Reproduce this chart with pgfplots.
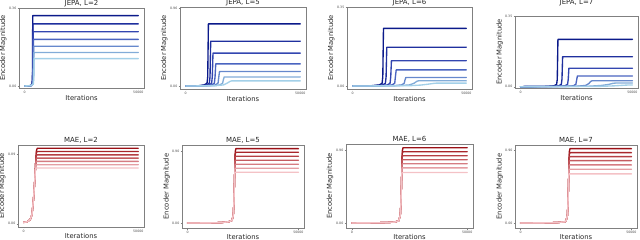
\documentclass[border=0pt]{standalone}
\usepackage{pgfplots}
\pgfplotsset{compat=1.18}
\usepackage{fontspec}
\setmainfont{DejaVu Sans}
\definecolor{b1}{HTML}{0B1A8A}
\definecolor{b2}{HTML}{1F2F9E}
\definecolor{b3}{HTML}{3346B0}
\definecolor{b4}{HTML}{4A64C0}
\definecolor{b5}{HTML}{6688CC}
\definecolor{b6}{HTML}{82ACD8}
\definecolor{b7}{HTML}{A3D0E8}
\definecolor{r1}{HTML}{9B1016}
\definecolor{r2}{HTML}{A8262B}
\definecolor{r3}{HTML}{B53F44}
\definecolor{r4}{HTML}{C45C61}
\definecolor{r5}{HTML}{D57C82}
\definecolor{r6}{HTML}{E49EA3}
\definecolor{r7}{HTML}{F4C2C6}
\pgfplotsset{panel/.style={
  scale only axis, xmin=-2500, xmax=52500, ymin=0, ymax=1,
  xtick={0,50000}, xticklabels={0,50000}, scaled x ticks=false,
  xtick pos=lower, ytick pos=left, tick align=outside,
  axis line style={black!50, line width=0.6bp},
  tick style={black!50, line width=0.4bp}, major tick length=1.5bp,
  ticklabel style={font=\fontsize{3.2}{3.5}\selectfont, text=black!70, inner sep=1bp},
  xlabel=Iterations, ylabel=Encoder Magnitude,
  label style={font=\fontsize{6.8}{7}\selectfont, text=black!85, inner sep=0pt},
  xlabel style={at={(axis description cs:0.5,0)}, anchor=north, yshift=-7.5bp},
  ylabel style={at={(axis description cs:-0.125,0.5)}, anchor=center, rotate=0},
  every axis title/.style={font=\fontsize{7}{8}\selectfont, text=black!85, at={(0.5,1)}, anchor=south, inner sep=0pt, yshift=1.3bp},
  every axis plot/.append style={line width=1.35bp, line join=round, line cap=round, mark=none}
}, bottomrow/.style={xlabel style={yshift=1.7bp}}}
\begin{document}
\begin{tikzpicture}
% ---------------- JEPA L=2
\begin{axis}[panel, at={(19bp,152bp)}, anchor=south west, width=125bp, height=80bp,
  title={JEPA, L=2}, ytick={0.025,1}, yticklabels={0.00,0.36}]
\addplot[b1] coordinates {(0,0.025)(2800,0.03)(3200,0.05)(3400,0.12)(3550,0.905)(50000,0.905)};
\addplot[b2] coordinates {(0,0.025)(2800,0.03)(3300,0.05)(3500,0.12)(3650,0.802)(50000,0.802)};
\addplot[b3] coordinates {(0,0.025)(2800,0.03)(3400,0.05)(3600,0.12)(3750,0.704)(50000,0.704)};
\addplot[b4] coordinates {(0,0.025)(2800,0.03)(3500,0.05)(3700,0.12)(3850,0.608)(50000,0.608)};
\addplot[b5] coordinates {(0,0.025)(2800,0.03)(3600,0.05)(3800,0.12)(3950,0.522)(50000,0.522)};
\addplot[b6] coordinates {(0,0.025)(2800,0.03)(3700,0.05)(3900,0.12)(4050,0.444)(50000,0.444)};
\addplot[b7] coordinates {(0,0.025)(2800,0.03)(3800,0.05)(4000,0.12)(4150,0.367)(50000,0.367)};
\end{axis}
% ---------------- JEPA L=5
\begin{axis}[panel, at={(180bp,151bp)}, anchor=south west, width=126bp, height=82bp,
  title={JEPA, L=5}, ytick={0.036,0.988}, yticklabels={0.00,0.96}]
\addplot[b1] coordinates {(0,0.036)(5600,0.04)(8100,0.05)(9300,0.07)(9600,0.15)(9900,0.794)(50000,0.794)};
\addplot[b2] coordinates {(0,0.036)(6600,0.04)(9100,0.05)(10300,0.07)(10600,0.15)(10900,0.583)(50000,0.583)};
\addplot[b3] coordinates {(0,0.036)(7600,0.04)(10100,0.05)(11300,0.07)(11600,0.15)(11900,0.437)(50000,0.437)};
\addplot[b4] coordinates {(0,0.036)(8800,0.04)(11300,0.05)(12500,0.07)(12800,0.15)(13100,0.306)(50000,0.306)};
\addplot[b5] coordinates {(0,0.036)(10400,0.04)(12900,0.05)(14100,0.07)(14400,0.14)(14750,0.214)(50000,0.214)};
\addplot[b6] coordinates {(0,0.036)(12400,0.04)(14900,0.05)(16100,0.07)(16400,0.11)(16800,0.147)(50000,0.147)};
\addplot[b7] coordinates {(0,0.036)(13000,0.04)(16500,0.05)(18000,0.07)(19300,0.092)(20000,0.099)(50000,0.099)};
\end{axis}
% ---------------- JEPA L=6
\begin{axis}[panel, at={(347bp,151bp)}, anchor=south west, width=125bp, height=82bp,
  title={JEPA, L=6}, ytick={0.036,1}, yticklabels={0.00,0.35}]
\addplot[b1] coordinates {(0,0.036)(8250,0.04)(11750,0.05)(12950,0.07)(13250,0.15)(13550,0.739)(50000,0.739)};
\addplot[b2] coordinates {(0,0.036)(9700,0.04)(13200,0.05)(14400,0.07)(14700,0.15)(15000,0.51)(50000,0.51)};
\addplot[b3] coordinates {(0,0.036)(11750,0.04)(15250,0.05)(16450,0.07)(16750,0.15)(17050,0.345)(50000,0.345)};
\addplot[b4] coordinates {(0,0.036)(13800,0.04)(17300,0.05)(18500,0.07)(18800,0.15)(19150,0.233)(50000,0.233)};
\addplot[b5] coordinates {(0,0.036)(18000,0.04)(21500,0.05)(22700,0.07)(23000,0.11)(23400,0.141)(50000,0.141)};
\addplot[b6] coordinates {(0,0.036)(20000,0.04)(25000,0.05)(27000,0.07)(28300,0.095)(29000,0.1)(50000,0.1)};
\addplot[b7] coordinates {(0,0.036)(25000,0.04)(30000,0.048)(33000,0.058)(35500,0.068)(37000,0.072)(50000,0.072)};
\end{axis}
% ---------------- JEPA L=7
\begin{axis}[panel, at={(515bp,152bp)}, anchor=south west, width=123bp, height=72bp,
  title={JEPA, L=7}, title style={yshift=9bp}, ytick={0.018,1}, yticklabels={0.00,0.35}]
\addplot[b1] coordinates {(0,0.018)(11400,0.022)(14900,0.03)(16100,0.05)(16400,0.12)(16700,0.676)(50000,0.676)};
\addplot[b2] coordinates {(0,0.018)(13500,0.022)(17000,0.03)(18200,0.05)(18500,0.12)(18800,0.435)(50000,0.435)};
\addplot[b3] coordinates {(0,0.018)(16300,0.022)(19800,0.03)(21000,0.05)(21300,0.12)(21600,0.274)(50000,0.274)};
\addplot[b4] coordinates {(0,0.018)(20000,0.022)(23500,0.03)(24700,0.05)(25000,0.1)(25400,0.167)(50000,0.167)};
\addplot[b5] coordinates {(0,0.018)(25000,0.024)(29000,0.035)(30500,0.06)(31300,0.09)(32000,0.101)(50000,0.101)};
\addplot[b6] coordinates {(0,0.018)(30000,0.024)(36000,0.035)(39500,0.05)(41300,0.065)(42500,0.069)(50000,0.069)};
\addplot[b7] coordinates {(0,0.018)(35000,0.022)(42000,0.03)(46000,0.038)(48500,0.042)(50000,0.042)};
\end{axis}
% ---------------- MAE L=2
\begin{axis}[panel, bottomrow, at={(18bp,13bp)}, anchor=south west, width=126bp, height=82bp,
  title={MAE, L=2}, ytick={0.04,0.886}, yticklabels={0.00,0.89}]
\addplot[r1] coordinates {(0,0.056)(1500,0.064)(2800,0.09)(3600,0.15)(4300,0.35)(4900,0.6)(5250,0.8)(5550,0.93)(5900,0.96)(50000,0.96)};
\addplot[r2] coordinates {(0,0.056)(1500,0.064)(2800,0.09)(3600,0.15)(4300,0.35)(4900,0.6)(5250,0.8)(5500,0.9)(5800,0.92)(50000,0.92)};
\addplot[r3] coordinates {(0,0.056)(1500,0.064)(2800,0.09)(3600,0.15)(4300,0.35)(4900,0.6)(5250,0.8)(5450,0.86)(5700,0.88)(50000,0.88)};
\addplot[r4] coordinates {(0,0.056)(1500,0.064)(2800,0.09)(3600,0.15)(4300,0.35)(4900,0.6)(5250,0.8)(5400,0.83)(5600,0.84)(50000,0.84)};
\addplot[r5] coordinates {(0,0.056)(1500,0.064)(2800,0.09)(3600,0.15)(4300,0.35)(4900,0.6)(5200,0.76)(5350,0.79)(5550,0.8)(50000,0.8)};
\addplot[r6] coordinates {(0,0.056)(1500,0.064)(2800,0.09)(3600,0.15)(4300,0.35)(4900,0.6)(5150,0.73)(5300,0.755)(5500,0.76)(50000,0.76)};
\addplot[r7] coordinates {(0,0.056)(1500,0.064)(2800,0.09)(3600,0.15)(4300,0.35)(4900,0.6)(5100,0.7)(5250,0.715)(5450,0.72)(50000,0.72)};
\end{axis}
% ---------------- MAE L=5
\begin{axis}[panel, bottomrow, at={(182bp,12bp)}, anchor=south west, width=122bp, height=83bp,
  title={MAE, L=5}, ytick={0.06,0.928}, yticklabels={0.00,0.90}]
\addplot[r1] coordinates {(0,0.06)(10000,0.062)(15000,0.065)(18500,0.075)(20000,0.09)(20600,0.15)(20900,0.3)(21100,0.5)(21250,0.65)(21350,0.8)(21500,0.92)(21800,0.956)(50000,0.956)};
\addplot[r2] coordinates {(0,0.06)(10000,0.062)(15000,0.065)(18500,0.075)(20000,0.09)(20600,0.15)(20900,0.3)(21100,0.5)(21250,0.65)(21350,0.8)(21480,0.89)(21750,0.912)(50000,0.912)};
\addplot[r3] coordinates {(0,0.06)(10000,0.062)(15000,0.065)(18500,0.075)(20000,0.09)(20600,0.15)(20900,0.3)(21100,0.5)(21250,0.65)(21350,0.8)(21450,0.85)(21650,0.864)(50000,0.864)};
\addplot[r4] coordinates {(0,0.06)(10000,0.062)(15000,0.065)(18500,0.075)(20000,0.09)(20600,0.15)(20900,0.3)(21100,0.5)(21250,0.65)(21350,0.8)(21420,0.81)(21600,0.816)(50000,0.816)};
\addplot[r5] coordinates {(0,0.06)(10000,0.062)(15000,0.065)(18500,0.075)(20000,0.09)(20600,0.15)(20900,0.3)(21100,0.5)(21250,0.65)(21330,0.75)(21400,0.762)(21550,0.768)(50000,0.768)};
\addplot[r6] coordinates {(0,0.06)(10000,0.062)(15000,0.065)(18500,0.075)(20000,0.09)(20600,0.15)(20900,0.3)(21100,0.5)(21250,0.65)(21300,0.7)(21370,0.715)(21500,0.72)(50000,0.72)};
\addplot[r7] coordinates {(0,0.06)(10000,0.062)(15000,0.065)(18500,0.075)(20000,0.09)(20600,0.15)(20900,0.3)(21100,0.5)(21250,0.64)(21330,0.668)(21450,0.672)(50000,0.672)};
\end{axis}
% ---------------- MAE L=6
\begin{axis}[panel, bottomrow, at={(346bp,12bp)}, anchor=south west, width=127bp, height=84bp,
  title={MAE, L=6}, ytick={0.06,0.928}, yticklabels={0.00,0.90}]
\addplot[r1] coordinates {(0,0.06)(10000,0.062)(15000,0.065)(18500,0.07)(20300,0.085)(21000,0.15)(21300,0.3)(21500,0.5)(21650,0.65)(21750,0.8)(21900,0.92)(22200,0.956)(50000,0.956)};
\addplot[r2] coordinates {(0,0.06)(10000,0.062)(15000,0.065)(18500,0.07)(20300,0.085)(21000,0.15)(21300,0.3)(21500,0.5)(21650,0.65)(21750,0.8)(21880,0.885)(22150,0.908)(50000,0.908)};
\addplot[r3] coordinates {(0,0.06)(10000,0.062)(15000,0.065)(18500,0.07)(20300,0.085)(21000,0.15)(21300,0.3)(21500,0.5)(21650,0.65)(21750,0.8)(21850,0.845)(22050,0.86)(50000,0.86)};
\addplot[r4] coordinates {(0,0.06)(10000,0.062)(15000,0.065)(18500,0.07)(20300,0.085)(21000,0.15)(21300,0.3)(21500,0.5)(21650,0.65)(21750,0.8)(21820,0.807)(22000,0.812)(50000,0.812)};
\addplot[r5] coordinates {(0,0.06)(10000,0.062)(15000,0.065)(18500,0.07)(20300,0.085)(21000,0.15)(21300,0.3)(21500,0.5)(21650,0.65)(21730,0.745)(21800,0.758)(21950,0.764)(50000,0.764)};
\addplot[r6] coordinates {(0,0.06)(10000,0.062)(15000,0.065)(18500,0.07)(20300,0.085)(21000,0.15)(21300,0.3)(21500,0.5)(21650,0.65)(21700,0.7)(21770,0.711)(21900,0.716)(50000,0.716)};
\addplot[r7] coordinates {(0,0.06)(10000,0.062)(15000,0.065)(18500,0.07)(20300,0.085)(21000,0.15)(21300,0.3)(21500,0.5)(21650,0.63)(21730,0.656)(21850,0.66)(50000,0.66)};
\end{axis}
% ---------------- MAE L=7
\begin{axis}[panel, bottomrow, at={(515bp,12bp)}, anchor=south west, width=122bp, height=83bp,
  title={MAE, L=7}, ytick={0.06,0.932}, yticklabels={0.00,0.90}]
\addplot[r1] coordinates {(0,0.06)(10000,0.062)(16300,0.065)(20100,0.075)(20500,0.085)(21100,0.15)(21400,0.3)(21600,0.5)(21750,0.65)(21850,0.8)(22000,0.92)(22300,0.956)(50000,0.956)};
\addplot[r2] coordinates {(0,0.06)(10000,0.062)(16300,0.065)(20100,0.075)(20500,0.085)(21100,0.15)(21400,0.3)(21600,0.5)(21750,0.65)(21850,0.8)(21980,0.885)(22250,0.908)(50000,0.908)};
\addplot[r3] coordinates {(0,0.06)(10000,0.062)(16300,0.065)(20100,0.075)(20500,0.085)(21100,0.15)(21400,0.3)(21600,0.5)(21750,0.65)(21850,0.8)(21950,0.845)(22150,0.86)(50000,0.86)};
\addplot[r4] coordinates {(0,0.06)(10000,0.062)(16300,0.065)(20100,0.075)(20500,0.085)(21100,0.15)(21400,0.3)(21600,0.5)(21750,0.65)(21850,0.8)(21920,0.807)(22100,0.812)(50000,0.812)};
\addplot[r5] coordinates {(0,0.06)(10000,0.062)(16300,0.065)(20100,0.075)(20500,0.085)(21100,0.15)(21400,0.3)(21600,0.5)(21750,0.65)(21830,0.74)(21900,0.754)(22050,0.76)(50000,0.76)};
\addplot[r6] coordinates {(0,0.06)(10000,0.062)(16300,0.065)(20100,0.075)(20500,0.085)(21100,0.15)(21400,0.3)(21600,0.5)(21750,0.65)(21800,0.69)(21870,0.703)(22000,0.708)(50000,0.708)};
\addplot[r7] coordinates {(0,0.06)(10000,0.062)(16300,0.065)(20100,0.075)(20500,0.085)(21100,0.15)(21400,0.3)(21600,0.5)(21750,0.63)(21830,0.648)(21950,0.652)(50000,0.652)};
\end{axis}
\pgfresetboundingbox
\useasboundingbox (0bp,0bp) rectangle (640bp,240bp);
\end{tikzpicture}
\end{document}
